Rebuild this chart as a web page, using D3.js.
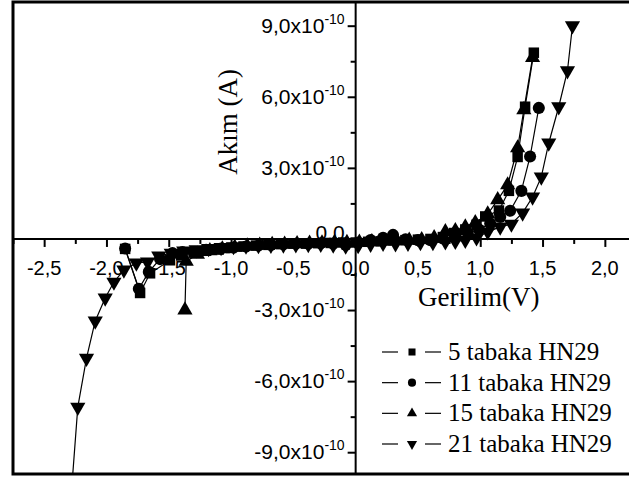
<!DOCTYPE html>
<html>
<head>
<meta charset="utf-8">
<script src="https://cdn.jsdelivr.net/npm/d3@7"></script>
<style>
html,body{margin:0;padding:0;background:#fff;}
svg{display:block;}
</style>
</head>
<body>
<svg id="chart" width="629" height="477"></svg>
<script>
// ---- data (voltage in V, current in units of 1e-10 A) ----
const seriesNames = ["5 tabaka HN29", "11 tabaka HN29", "15 tabaka HN29", "21 tabaka HN29"];
const seriesSymbols = ["square", "circle", "triangleUp", "triangleDown"];

const V1 = [-1.85,-1.73,-1.65,-1.49,-1.40,-1.30,-1.20,-1.10,-1.00,-0.90,-0.80,-0.70,-0.60,-0.50,-0.40,-0.30,-0.20,-0.10,0.00,0.10,0.20,0.30,0.40,0.50,0.60,0.70,0.79,0.88,0.97,1.04,1.15,1.23,1.30,1.36,1.43];
const I1 = [-0.42,-2.28,-1.45,-0.90,-0.70,-0.58,-0.50,-0.45,-0.38,-0.32,-0.28,-0.25,-0.22,-0.20,-0.20,-0.18,-0.17,-0.15,-0.15,-0.12,-0.10,-0.05,-0.05,-0.03,0.00,0.08,0.25,0.40,0.60,0.95,1.20,2.03,3.46,5.58,7.86];

const V2 = [-1.85,-1.74,-1.66,-1.57,-1.47,-1.39,-1.30,-1.20,-1.08,-0.98,-0.88,-0.78,-0.68,-0.58,-0.48,-0.38,-0.28,-0.18,-0.08,0.02,0.12,0.22,0.30,0.40,0.50,0.60,0.70,0.80,0.90,0.99,1.08,1.16,1.24,1.33,1.40,1.47];
const I2 = [-0.40,-2.10,-1.39,-0.85,-0.60,-0.55,-0.55,-0.46,-0.40,-0.36,-0.32,-0.28,-0.25,-0.22,-0.20,-0.20,-0.18,-0.20,-0.25,-0.15,-0.05,0.05,0.17,-0.02,-0.05,-0.05,0.02,0.10,0.25,0.40,0.65,0.93,1.19,2.03,3.48,5.53];

const V3 = [-1.37,-1.36,-1.27,-1.17,-1.07,-0.97,-0.87,-0.77,-0.67,-0.57,-0.47,-0.37,-0.27,-0.17,-0.07,0.03,0.13,0.23,0.33,0.43,0.53,0.63,0.72,0.80,0.88,0.96,1.06,1.14,1.22,1.30,1.35,1.42];
const I3 = [-3.00,-0.95,-0.65,-0.50,-0.42,-0.35,-0.30,-0.27,-0.24,-0.22,-0.20,-0.18,-0.17,-0.15,-0.15,-0.14,-0.12,-0.10,-0.08,-0.06,-0.03,0.05,0.30,0.35,0.50,0.68,1.05,1.65,2.28,3.84,5.45,7.65];

const V4 = [-2.30,-2.23,-2.16,-2.09,-2.01,-1.94,-1.86,-1.76,-1.67,-1.58,-1.48,-1.38,-1.28,-1.18,-1.08,-0.98,-0.88,-0.78,-0.68,-0.58,-0.48,-0.38,-0.28,-0.18,-0.08,0.02,0.12,0.22,0.32,0.42,0.52,0.62,0.72,0.80,0.88,0.97,1.06,1.16,1.25,1.34,1.42,1.49,1.55,1.63,1.70,1.74];
const I4 = [-12.0,-7.10,-5.03,-3.46,-2.49,-1.82,-1.31,-1.01,-0.97,-0.72,-0.60,-0.50,-0.45,-0.40,-0.36,-0.32,-0.30,-0.28,-0.26,-0.25,-0.24,-0.23,-0.22,-0.25,-0.30,-0.28,-0.22,-0.18,-0.20,-0.18,-0.15,-0.15,-0.12,-0.10,-0.05,0.05,0.30,0.51,0.63,1.10,1.77,2.62,4.05,5.58,7.10,9.00];

const xMajorTicks = [-2.5,-2.0,-1.5,-1.0,-0.5,0.0,0.5,1.0,1.5,2.0];
const xTickLabels = ["-2,5","-2,0","-1,5","-1,0","-0,5","0,0","0,5","1,0","1,5","2,0"];
const xMinorTicks = [-2.75,-2.25,-1.75,-1.25,-0.75,-0.25,0.25,0.75,1.25,1.75,2.25];
const yMajorTicks = [-9, -6, -3, 0, 3, 6, 9];
const yTickMantissa = ["-9,0x10", "-6,0x10", "-3,0x10", "0,0", "3,0x10", "6,0x10", "9,0x10"];
const yTickExponent = ["-10", "-10", "-10", "", "-10", "-10", "-10"];
const yMinorTicks = [-7.5, -4.5, -1.5, 1.5, 4.5, 7.5];
const xTitle = "Gerilim(V)";
const yTitle = "Akım (A)";

// ---- drawing ----
const Vs = [V1, V2, V3, V4];
const Is = [I1, I2, I3, I4];
const series = seriesNames.map((name, k) => ({
  name, symbol: seriesSymbols[k],
  pts: Vs[k].map((v, i) => ({v, c: Is[k][i]}))
}));

const svg = d3.select("#chart");
const frame = {left: 13, top: 2, right: 636, bottom: 474};
const x = d3.scaleLinear().domain([-2.75, 2.25]).range([frame.left, frame.right]);
const y = d3.scaleLinear().domain([-9.92, 10.0]).range([frame.bottom, frame.top]);
const x0 = x(0), y0 = y(0);

svg.append("rect").attr("width", 629).attr("height", 477).attr("fill", "#fff");

svg.append("defs").append("clipPath").attr("id", "clip")
  .append("rect").attr("x", frame.left).attr("y", frame.top)
  .attr("width", frame.right - frame.left).attr("height", frame.bottom - frame.top);

// frame
svg.append("rect").attr("x", frame.left).attr("y", frame.top)
  .attr("width", frame.right - frame.left).attr("height", frame.bottom - frame.top)
  .attr("fill", "none").attr("stroke", "#000").attr("stroke-width", 3);

// x axis (through y=0)
const xAxisG = svg.append("g").attr("transform", `translate(0,${y0})`);
xAxisG.call(d3.axisBottom(x).tickValues(xMajorTicks).tickSize(8).tickSizeOuter(0).tickFormat(""));
xAxisG.append("g").call(d3.axisBottom(x).tickValues(xMinorTicks).tickSize(5).tickSizeOuter(0).tickFormat(""))
  .select(".domain").remove();
xAxisG.selectAll(".domain").attr("stroke-width", 2).attr("d", `M${frame.left},0H${frame.right}`);
xAxisG.selectAll(".tick line").attr("stroke-width", 2);
svg.append("g").selectAll("text").data(xMajorTicks).join("text")
  .attr("x", d => x(d)).attr("y", y0 + 36)
  .attr("text-anchor", "middle")
  .attr("font-family", "'Liberation Sans', Arial, sans-serif").attr("font-size", 20)
  .text((d, i) => xTickLabels[i]);

// y axis (through x=0)
const yAxisG = svg.append("g").attr("transform", `translate(${x0},0)`);
yAxisG.call(d3.axisLeft(y).tickValues(yMajorTicks).tickSize(8).tickSizeOuter(0).tickFormat(""));
yAxisG.append("g").call(d3.axisLeft(y).tickValues(yMinorTicks).tickSize(5).tickSizeOuter(0).tickFormat(""))
  .select(".domain").remove();
yAxisG.selectAll(".domain").attr("stroke-width", 2).attr("d", `M0,${frame.top}V${frame.bottom}`);
yAxisG.selectAll(".tick line").attr("stroke-width", 2);
const yl = svg.append("g").selectAll("text").data(yMajorTicks).join("text")
  .attr("x", x0 - 11).attr("y", d => y(d) + 7 - (d === 0 ? 6 : 0))
  .attr("text-anchor", "end")
  .attr("font-family", "'Liberation Sans', Arial, sans-serif").attr("font-size", 21);
yl.append("tspan").text((d, i) => yTickMantissa[i]);
yl.append("tspan").attr("font-size", 14).attr("dy", -9).text((d, i) => yTickExponent[i]);

// titles
svg.append("text").attr("x", 418).attr("y", 306)
  .attr("font-family", "'Liberation Serif', 'Times New Roman', serif").attr("font-size", 27)
  .text(xTitle);
svg.append("text").attr("transform", `translate(237,122) rotate(-90)`)
  .attr("text-anchor", "middle")
  .attr("font-family", "'Liberation Serif', 'Times New Roman', serif").attr("font-size", 27)
  .text(yTitle);

// symbols
const symType = {
  square: d3.symbolSquare, circle: d3.symbolCircle,
  triangleUp: d3.symbolTriangle, triangleDown: d3.symbolTriangle
};
const symSize = {square: 110, circle: 115, triangleUp: 100, triangleDown: 100};
function symPath(s, scale) {
  return d3.symbol().type(symType[s]).size(symSize[s] * scale)();
}

const plot = svg.append("g").attr("clip-path", "url(#clip)");
const line = d3.line().x(d => x(d.v)).y(d => y(d.c));
series.forEach(s => {
  plot.append("path").datum(s.pts).attr("d", line)
    .attr("fill", "none").attr("stroke", "#000").attr("stroke-width", 1.2);
});
series.forEach(s => {
  plot.append("g").selectAll("path").data(s.pts).join("path")
    .attr("d", symPath(s.symbol, 1))
    .attr("transform", d => `translate(${x(d.v)},${y(d.c)})` + (s.symbol === "triangleDown" ? " rotate(180)" : ""))
    .attr("fill", "#000");
});

// legend
const legRowY = d3.scaleLinear().domain([0, 3]).range([352, 444]);
const leg = svg.append("g").selectAll("g").data(series).join("g")
  .attr("transform", (d, i) => `translate(0,${legRowY(i)})`);
leg.append("line").attr("x1", 382).attr("x2", 398).attr("y1", 0).attr("y2", 0).attr("stroke", "#000").attr("stroke-width", 1.2);
leg.append("line").attr("x1", 425).attr("x2", 441).attr("y1", 0).attr("y2", 0).attr("stroke", "#000").attr("stroke-width", 1.2);
leg.append("path").attr("d", d => symPath(d.symbol, 0.45))
  .attr("transform", d => `translate(412,0)` + (d.symbol === "triangleDown" ? " rotate(180)" : ""))
  .attr("fill", "#000");
leg.append("text").attr("x", 448).attr("y", 8)
  .attr("font-family", "'Liberation Serif', 'Times New Roman', serif").attr("font-size", 25)
  .text(d => d.name);
</script>
</body>
</html>
